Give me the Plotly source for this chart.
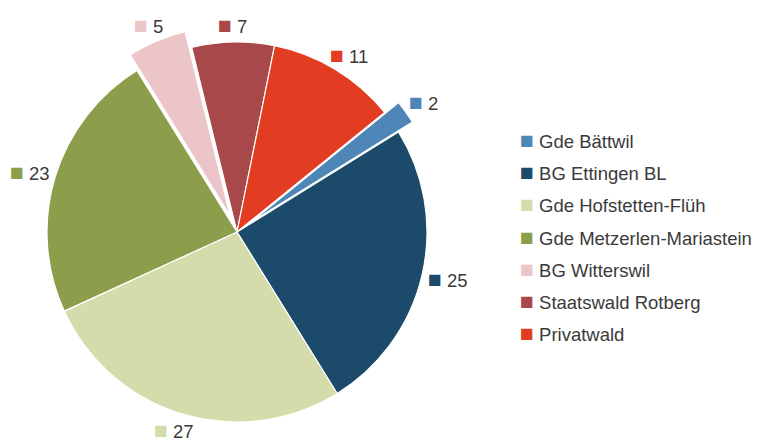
import math
import plotly.graph_objects as go

# Forest ownership shares (percent)
owners = ["Gde Bättwil", "BG Ettingen BL", "Gde Hofstetten-Flüh",
          "Gde Metzerlen-Mariastein", "BG Witterswil", "Staatswald Rotberg",
          "Privatwald"]
shares = [2, 25, 27, 23, 5, 7, 11]
colors = ["#4f86b8", "#1b4a6b", "#d5dcac", "#8c9e4b", "#ecc5c9", "#a8484a", "#e23d22"]
pulls = [0.09, 0, 0, 0, 0.09, 0, 0]

W, H = 769, 448
CX, CY = 237, 232      # pie centre, px from top-left
R = 190                # pie radius, px
ROT = 51               # start angle of first slice, clockwise from 12 o'clock
FONT = "Liberation Sans, Arial, sans-serif"
FS = 18.5
TXT = "#3a3a3a"

half = R * (1 + max(pulls))
dom_x = [(CX - half) / W, (CX + half) / W]
dom_y = [(H - CY - half) / H, (H - CY + half) / H]

fig = go.Figure(go.Pie(
    labels=owners, values=shares, sort=False, direction="clockwise",
    rotation=ROT, pull=pulls, textinfo="none", hoverinfo="label+value",
    marker=dict(colors=colors, line=dict(color="#ffffff", width=1.2)),
    domain=dict(x=dom_x, y=dom_y), showlegend=False,
))

def px_to_paper(x, y):
    return x / W, 1 - y / H

def swatch(c):
    return f"<span style='color:{c};font-size:23px'>■</span>"

annotations = []
total = sum(shares)
cum = 0
for v, c, p in zip(shares, colors, pulls):
    mid = math.radians(ROT + 360 * (cum + v / 2) / total)
    cum += v
    ux, uy = math.sin(mid), -math.cos(mid)
    d = R * (1 + p) + 8
    bw = (0.9 + 0.556 * len(str(v))) * FS
    bh = FS
    x = CX + ux * d + ux * bw / 2
    y = CY + uy * d + uy * bh / 2
    px, py = px_to_paper(x, y)
    annotations.append(dict(
        x=px, y=py, xref="paper", yref="paper", xanchor="center", yanchor="middle",
        text=f"{swatch(c)} {v}", showarrow=False,
        font=dict(family=FONT, size=FS, color=TXT),
    ))

# legend drawn as a column of labelled swatches
LX, LY0, LDY = 518, 140, 32.2
for i, (name, c) in enumerate(zip(owners, colors)):
    px, py = px_to_paper(LX, LY0 + i * LDY)
    annotations.append(dict(
        x=px, y=py, xref="paper", yref="paper", xanchor="left", yanchor="middle",
        text=f"{swatch(c)} {name}", showarrow=False,
        font=dict(family=FONT, size=FS, color=TXT),
    ))

fig.update_layout(
    width=W, height=H, margin=dict(l=0, r=0, t=0, b=0),
    paper_bgcolor="#ffffff", plot_bgcolor="#ffffff",
    annotations=annotations,
)

fig.write_html("out.html")
